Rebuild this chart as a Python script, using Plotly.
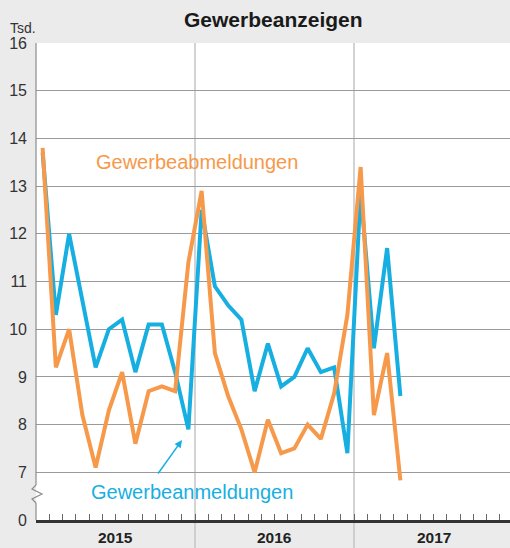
import plotly.graph_objects as go

years = ["2015", "2016", "2017"]

# Gewerbeanmeldungen (Tsd.), Jan 2015 - Apr 2017
anmeldungen = [13.7, 10.3, 12.0, 10.6, 9.2, 10.0, 10.2, 9.1, 10.1, 10.1, 9.1, 7.9,
               12.5, 10.9, 10.5, 10.2, 8.7, 9.7, 8.8, 9.0, 9.6, 9.1, 9.2, 7.4,
               12.9, 9.6, 11.7, 8.6]
# Gewerbeabmeldungen (Tsd.)
abmeldungen = [13.8, 9.2, 10.0, 8.2, 7.1, 8.3, 9.1, 7.6, 8.7, 8.8, 8.7, 11.4,
               12.9, 9.5, 8.6, 7.9, 7.0, 8.1, 7.4, 7.5, 8.0, 7.7, 8.65, 10.3,
               13.4, 8.2, 9.5, 6.83]

y_tickvals = [6, 7, 8, 9, 10, 11, 12, 13, 14, 15, 16]
y_ticktext = ["0", "7", "8", "9", "10", "11", "12", "13", "14", "15", "16"]

BLUE = "#17afe2"
ORANGE = "#f6994a"
FONT = "Liberation Sans"

x_blue = [i + 0.5 for i in range(len(anmeldungen))]
x_orange = [i + 0.5 for i in range(len(abmeldungen))]

fig = go.Figure()
fig.add_trace(go.Scatter(x=x_blue, y=anmeldungen, mode="lines",
                         line=dict(color=BLUE, width=4), hoverinfo="skip"))
fig.add_trace(go.Scatter(x=x_orange, y=abmeldungen, mode="lines",
                         line=dict(color=ORANGE, width=4), hoverinfo="skip"))

W, H = 510, 548
L, T, B = 36, 43, 28
plot_w = W - L
plot_h = H - T - B


def px_x(p):
    return (p - L) / plot_w


def px_y(p):
    return (H - B - p) / plot_h


def val_y(p):
    return 6 + (H - B - p) / plot_h * 10


shapes = []
# year separators
for xv in [12, 24]:
    shapes.append(dict(type="line", xref="x", yref="paper", x0=xv, x1=xv,
                       y0=px_y(H), y1=1, line=dict(color="#c4c4c4", width=1.5), layer="below"))
# left axis line with break
grey = "#8c8c8c"
shapes.append(dict(type="line", xref="paper", yref="y", x0=0, x1=0, y0=val_y(485), y1=16,
                   line=dict(color=grey, width=1.2)))
shapes.append(dict(type="line", xref="paper", yref="y", x0=0, x1=0, y0=6, y1=val_y(503),
                   line=dict(color=grey, width=1.2)))
zz = [(36, 485), (32, 489), (42, 494), (32, 499), (36, 503)]
path = "M " + " L ".join(f"{px_x(a)},{val_y(b)}" for a, b in zz)
shapes.append(dict(type="path", xref="paper", yref="y", path=path,
                   line=dict(color=grey, width=1.2)))

annotations = [
    dict(text="<b>Gewerbeanzeigen</b>", xref="paper", yref="paper", x=px_x(273), y=px_y(19),
         xanchor="center", yanchor="middle",
         showarrow=False, font=dict(size=21, color="#1a1a1a", family=FONT)),
    dict(text="Tsd.", xref="paper", yref="paper", x=px_x(8), y=px_y(28),
         xanchor="left", yanchor="middle",
         showarrow=False, font=dict(size=14, color="#333333", family=FONT)),
    dict(text="Gewerbeabmeldungen", xref="paper", yref="paper", x=px_x(197), y=px_y(162),
         xanchor="center", yanchor="middle",
         showarrow=False, font=dict(size=20, color=ORANGE, family=FONT)),
    dict(text="Gewerbeanmeldungen", xref="paper", yref="paper", x=px_x(192), y=px_y(492),
         xanchor="center", yanchor="middle",
         showarrow=False, font=dict(size=20, color=BLUE, family=FONT)),
    dict(text="", xref="x", yref="y", x=(182 - L) / 13.25, y=val_y(440),
         ax=-25, ay=35, showarrow=True, arrowhead=2, arrowsize=1, arrowwidth=1.5,
         arrowcolor=BLUE),
]
for i, yr in enumerate(years):
    annotations.append(dict(text=f"<b>{yr}</b>", xref="x", yref="paper", x=6 + 12 * i,
                            y=px_y(537), xanchor="center", yanchor="middle", showarrow=False,
                            font=dict(size=15.5, color="#222222", family=FONT)))

fig.update_layout(
    width=W, height=H,
    margin=dict(l=L, r=0, t=T, b=B, pad=0),
    paper_bgcolor="#ebebeb", plot_bgcolor="white",
    showlegend=False,
    font=dict(family=FONT),
    shapes=shapes, annotations=annotations,
    xaxis=dict(range=[0, plot_w / 13.25], showgrid=False, zeroline=False,
               tickmode="array", tickvals=list(range(1, 36)), ticks="inside",
               ticklen=6, tickcolor="#666666", tickwidth=1, showticklabels=False,
               showline=True, linecolor="#333333", linewidth=2.5, fixedrange=True),
    yaxis=dict(range=[6, 16], tickmode="array", tickvals=y_tickvals, ticktext=y_ticktext,
               showgrid=True, gridcolor="#9a9a9a", gridwidth=1, zeroline=False,
               showline=False, ticks="", ticklabelstandoff=8,
               tickfont=dict(size=16, color="#333333", family=FONT), fixedrange=True),
)

fig.write_html("out.html", config={"displayModeBar": False},
               post_script="document.body.style.margin='0';document.body.style.overflow='hidden';")
